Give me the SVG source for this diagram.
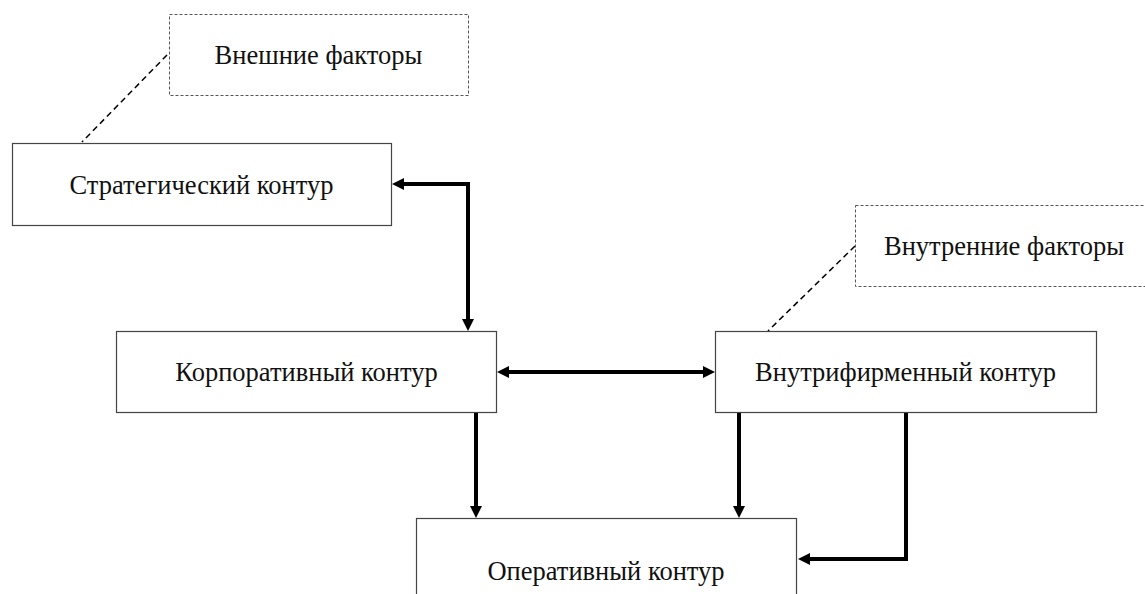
<svg xmlns="http://www.w3.org/2000/svg" width="1145" height="594" viewBox="0 0 1145 594">
  <style>
    .box { fill: #ffffff; stroke: #444444; stroke-width: 1.2; }
    .factor { fill: #ffffff; stroke: #555555; stroke-width: 1; stroke-dasharray: 3 2; }
    .label { font-family: "Liberation Serif", "Times New Roman", serif; font-size: 26.5px; fill: #111111; text-anchor: middle; }
    .link { fill: none; stroke: #000000; stroke-width: 4; }
    .leader { fill: none; stroke: #000000; stroke-width: 1.5; stroke-dasharray: 6 4; }
  </style>
  <defs>
    <marker id="arrow" viewBox="0 0 12 12" refX="4" refY="6" markerWidth="12" markerHeight="12" markerUnits="userSpaceOnUse" orient="auto-start-reverse">
      <path d="M0,0 L12,6 L0,12 Z" fill="#000000"/>
    </marker>
  </defs>

  <rect width="1145" height="594" fill="#ffffff"/>

  <!-- dashed leaders from factor boxes -->
  <g id="leaders">
    <path class="leader" d="M167,55 L82,142"/>
    <path class="leader" d="M855,246 L768,331"/>
  </g>

  <g id="external-factors">
    <rect class="factor" x="169.5" y="14.5" width="299" height="81"/>
    <text class="label" x="318.5" y="64">Внешние факторы</text>
  </g>

  <g id="internal-factors">
    <rect class="factor" x="855.5" y="205.5" width="300" height="81"/>
    <text class="label" x="1004" y="255">Внутренние факторы</text>
  </g>

  <g id="strategic">
    <rect class="box" x="12.5" y="143.5" width="379" height="82"/>
    <text class="label" x="201.5" y="194">Стратегический контур</text>
  </g>

  <g id="corporate">
    <rect class="box" x="116.5" y="331.5" width="380" height="81"/>
    <text class="label" x="306.5" y="381">Корпоративный контур</text>
  </g>

  <g id="intrafirm">
    <rect class="box" x="715.5" y="331.5" width="381" height="81"/>
    <text class="label" x="905.5" y="381">Внутрифирменный контур</text>
  </g>

  <g id="operative">
    <rect class="box" x="416.5" y="518.5" width="380" height="100"/>
    <text class="label" x="606" y="580">Оперативный контур</text>
  </g>

  <!-- connectors -->
  <g id="connectors">
    <path class="link" d="M400,184 H468 V323" marker-start="url(#arrow)" marker-end="url(#arrow)"/>
    <path class="link" d="M505,372 H707" marker-start="url(#arrow)" marker-end="url(#arrow)"/>
    <path class="link" d="M476,413 V510" marker-end="url(#arrow)"/>
    <path class="link" d="M739,413 V510" marker-end="url(#arrow)"/>
    <path class="link" d="M906,413 V559 H806" marker-end="url(#arrow)"/>
  </g>
</svg>
